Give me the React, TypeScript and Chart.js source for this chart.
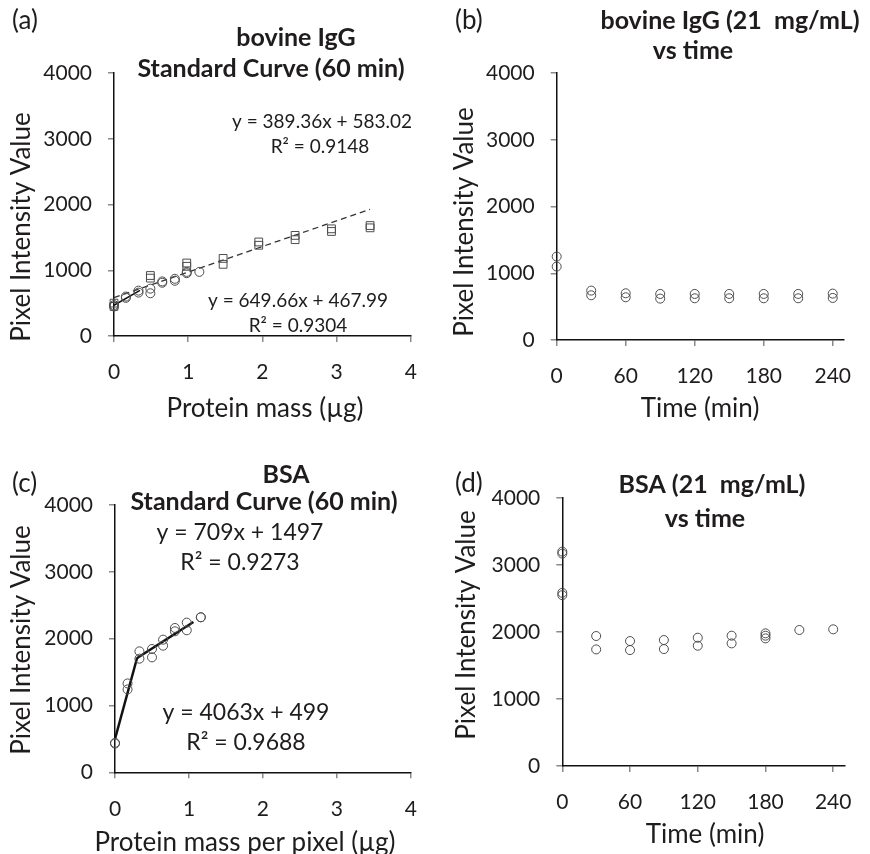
import React, { useEffect, useRef } from 'react';
import { Chart, registerables } from 'chart.js';
Chart.register(...registerables);

const FONT = 'Lato, "Open Sans", sans-serif';
const TEXT = '#1f1c1d';
const MARK = '#4d4d4d';

// ---------- (a) bovine IgG standard curve ----------
const aSquareMass = [0, 0, 0.49, 0.49, 0.98, 0.98, 1.47, 1.47, 1.95, 1.95, 2.44, 2.44, 2.93, 2.93, 3.45, 3.45];
const aSquareIntensity = [500, 450, 920, 880, 1110, 1060, 1180, 1090, 1430, 1380, 1530, 1465, 1630, 1590, 1680, 1645];
const aCircleMass = [0, 0, 0.16, 0.16, 0.33, 0.33, 0.49, 0.49, 0.65, 0.65, 0.82, 0.82, 0.98, 0.98, 1.15];
const aCircleIntensity = [470, 450, 600, 580, 690, 660, 720, 650, 830, 810, 870, 840, 975, 955, 975];
const aFitUpper = { slope: 389.36, intercept: 583.02, from: 0, to: 3.45 };
const aFitLower = { slope: 649.66, intercept: 467.99, from: 0, to: 0.35 };

// ---------- (b) bovine IgG vs time ----------
const bTime = [0, 0, 30, 30, 60, 60, 90, 90, 120, 120, 150, 150, 180, 180, 210, 210, 240, 240];
const bIntensity = [1250, 1100, 740, 670, 700, 640, 690, 620, 690, 625, 690, 625, 690, 625, 690, 625, 695, 630];

// ---------- (c) BSA standard curve ----------
const cMass = [0, 0, 0.17, 0.17, 0.33, 0.33, 0.5, 0.5, 0.65, 0.65, 0.81, 0.81, 0.97, 0.97, 1.16, 1.16];
const cIntensity = [440, 430, 1330, 1240, 1810, 1700, 1845, 1720, 1985, 1895, 2160, 2110, 2240, 2125, 2320, 2320];
const cFitLow = { slope: 4063, intercept: 499, from: 0, to: 0.3 };
const cFitHigh = { slope: 709, intercept: 1497, from: 0.3, to: 1.06 };

// ---------- (d) BSA vs time ----------
const dTime = [0, 0, 0, 0, 30, 30, 60, 60, 90, 90, 120, 120, 150, 150, 180, 180, 180, 210, 240];
const dIntensity = [3200, 3170, 2585, 2550, 1940, 1740, 1865, 1730, 1880, 1745, 1915, 1795, 1945, 1830, 1980, 1945, 1905, 2030, 2040];

// ---------- axes ----------
const yTickValues = [0, 1000, 2000, 3000, 4000];
const massTickValues = [0, 1, 2, 3, 4];
const timeTickValues = [0, 60, 120, 180, 240];

const pts = (xs: number[], ys: number[]) => xs.map((x, i) => ({ x, y: ys[i] }));
const fitLine = (f: { slope: number; intercept: number; from: number; to: number }) => [
  { x: f.from, y: f.slope * f.from + f.intercept },
  { x: f.to, y: f.slope * f.to + f.intercept },
];

const W = 435;
const H = 427;

type Txt = { t: string; x: number; y: number; size: number; bold?: boolean; align?: CanvasTextAlign; rot?: boolean };

const textPlugin = {
  id: 'panelText',
  afterDraw(chart: any) {
    const items: Txt[] = chart.options.plugins.panelText?.items || [];
    const ctx = chart.ctx;
    ctx.save();
    ctx.fillStyle = TEXT;
    ctx.textBaseline = 'middle';
    for (const it of items) {
      ctx.font = `${it.bold ? 'bold ' : ''}${it.size}px ${FONT}`;
      ctx.textAlign = it.align || 'center';
      if (it.rot) {
        ctx.save();
        ctx.translate(it.x, it.y);
        ctx.rotate(-Math.PI / 2);
        ctx.fillText(it.t, 0, 0);
        ctx.restore();
      } else {
        ctx.fillText(it.t, it.x, it.y);
      }
    }
    ctx.restore();
  },
};

const scatterSet = (data: any[], style: string, radius: number) => ({
  type: 'scatter',
  data,
  pointStyle: style,
  pointRadius: radius,
  pointBorderColor: MARK,
  pointBackgroundColor: 'rgba(0,0,0,0)',
  pointBorderWidth: 1,
  showLine: false,
  clip: false,
  order: 1,
});

const lineSet = (data: any[], width: number, dash: number[] = [], color = '#111') => ({
  type: 'scatter',
  data,
  showLine: true,
  borderColor: color,
  borderWidth: width,
  borderDash: dash,
  pointRadius: 0,
  fill: false,
  clip: false,
  order: 2,
});

type PanelProps = {
  left: number;
  top: number;
  area: { left: number; right: number; top: number; bottom: number };
  xMax: number;
  xTicks: number[];
  datasets: any[];
  texts: Txt[];
};

function Panel({ left, top, area, xMax, xTicks, datasets, texts }: PanelProps) {
  const ref = useRef<HTMLCanvasElement | null>(null);
  useEffect(() => {
    if (!ref.current) return;
    const tickFont = { family: FONT, size: 21 };
    const grid = { drawOnChartArea: false, drawTicks: true, tickLength: 6, color: '#8a8a8a', lineWidth: 1.5 };
    const border = { display: true, color: '#111', width: 1.5 };
    const plain = (v: any) => String(v);
    const chart = new Chart(ref.current, {
      type: 'scatter',
      data: { datasets },
      options: {
        animation: false,
        responsive: false,
        maintainAspectRatio: false,
        devicePixelRatio: 1,
        layout: { padding: { left: 0, top: area.top, right: W - area.right, bottom: 0 } },
        plugins: {
          legend: { display: false },
          tooltip: { enabled: false },
          panelText: { items: texts },
        } as any,
        scales: {
          x: {
            type: 'linear',
            min: 0,
            max: xMax,
            afterFit: (s: any) => { s.height = H - area.bottom; },
            afterBuildTicks: (s: any) => { s.ticks = xTicks.map((v) => ({ value: v })); },
            ticks: { font: tickFont, color: TEXT, padding: 18, maxRotation: 0, autoSkip: false, callback: plain },
            grid,
            border,
          },
          y: {
            type: 'linear',
            min: 0,
            max: 4000,
            afterFit: (s: any) => { s.width = area.left; },
            afterBuildTicks: (s: any) => { s.ticks = yTickValues.map((v) => ({ value: v })); },
            ticks: { font: tickFont, color: TEXT, padding: 16, callback: plain },
            grid,
            border,
          },
        },
      } as any,
      plugins: [textPlugin],
    });
    return () => chart.destroy();
  }, []);
  return (
    <canvas
      ref={ref}
      width={W}
      height={H}
      style={{ position: 'absolute', left, top, width: W, height: H }}
    />
  );
}

export default function App() {
  const panels: PanelProps[] = [
    {
      left: 0,
      top: 0,
      area: { left: 114, right: 416, top: 73, bottom: 336 },
      xMax: 4,
      xTicks: massTickValues,
      datasets: [
        lineSet(fitLine(aFitUpper), 1.3, [6, 4], '#333'),
        lineSet(fitLine(aFitLower), 1.5),
        scatterSet(pts(aSquareMass, aSquareIntensity), 'rect', 5.5),
        scatterSet(pts(aCircleMass, aCircleIntensity), 'circle', 4.5),
      ],
      texts: [
        { t: '(a)', x: 12, y: 21, size: 26, align: 'left' },
        { t: 'bovine IgG', x: 296, y: 38, size: 25, bold: true },
        { t: 'Standard Curve (60 min)', x: 271, y: 69, size: 25, bold: true },
        { t: 'y = 389.36x + 583.02', x: 322, y: 122, size: 19 },
        { t: 'R² = 0.9148', x: 320, y: 147, size: 19 },
        { t: 'y = 649.66x + 467.99', x: 298, y: 301, size: 19 },
        { t: 'R² = 0.9304', x: 298, y: 326, size: 19 },
        { t: 'Pixel Intensity Value', x: 22, y: 227, size: 26, rot: true },
        { t: 'Protein mass (µg)', x: 265, y: 409, size: 26 },
      ],
    },
    {
      left: 435,
      top: 0,
      area: { left: 121.7, right: 410, top: 73, bottom: 340 },
      xMax: 250,
      xTicks: timeTickValues,
      datasets: [scatterSet(pts(bTime, bIntensity), 'circle', 4.5)],
      texts: [
        { t: '(b)', x: 20, y: 21, size: 26, align: 'left' },
        { t: 'bovine IgG (21  mg/mL)', x: 295, y: 21, size: 25, bold: true },
        { t: 'vs time', x: 258, y: 51, size: 25, bold: true },
        { t: 'Pixel Intensity Value', x: 30, y: 222, size: 26, rot: true },
        { t: 'Time (min)', x: 265, y: 409, size: 26 },
      ],
    },
    {
      left: 0,
      top: 427,
      area: { left: 115, right: 419, top: 78, bottom: 345.3 },
      xMax: 4,
      xTicks: massTickValues,
      datasets: [
        lineSet(fitLine(cFitLow), 2.5),
        lineSet(fitLine(cFitHigh), 2.5),
        scatterSet(pts(cMass, cIntensity), 'circle', 4.5),
      ],
      texts: [
        { t: '(c)', x: 12, y: 57, size: 26, align: 'left' },
        { t: 'BSA', x: 286, y: 48, size: 25, bold: true },
        { t: 'Standard Curve (60 min)', x: 264, y: 75, size: 25, bold: true },
        { t: 'y = 709x + 1497', x: 240, y: 106, size: 23 },
        { t: 'R² = 0.9273', x: 240, y: 136, size: 23 },
        { t: 'y = 4063x + 499', x: 246, y: 286, size: 23 },
        { t: 'R² = 0.9688', x: 246, y: 316, size: 23 },
        { t: 'Pixel Intensity Value', x: 22, y: 213, size: 26, rot: true },
        { t: 'Protein mass per pixel (µg)', x: 245, y: 416, size: 26 },
      ],
    },
    {
      left: 435,
      top: 427,
      area: { left: 127.3, right: 422, top: 71, bottom: 339 },
      xMax: 250,
      xTicks: timeTickValues,
      datasets: [scatterSet(pts(dTime, dIntensity), 'circle', 4.5)],
      texts: [
        { t: '(d)', x: 20, y: 57, size: 26, align: 'left' },
        { t: 'BSA (21  mg/mL)', x: 277, y: 58, size: 25, bold: true },
        { t: 'vs time', x: 270, y: 92, size: 25, bold: true },
        { t: 'Pixel Intensity Value', x: 32, y: 198, size: 26, rot: true },
        { t: 'Time (min)', x: 270, y: 408, size: 26 },
      ],
    },
  ];
  return (
    <div style={{ position: 'fixed', left: 0, top: 0, width: 870, height: 854, background: '#fff', overflow: 'hidden' }}>
      {panels.map((p, i) => (
        <Panel key={i} {...p} />
      ))}
    </div>
  );
}
